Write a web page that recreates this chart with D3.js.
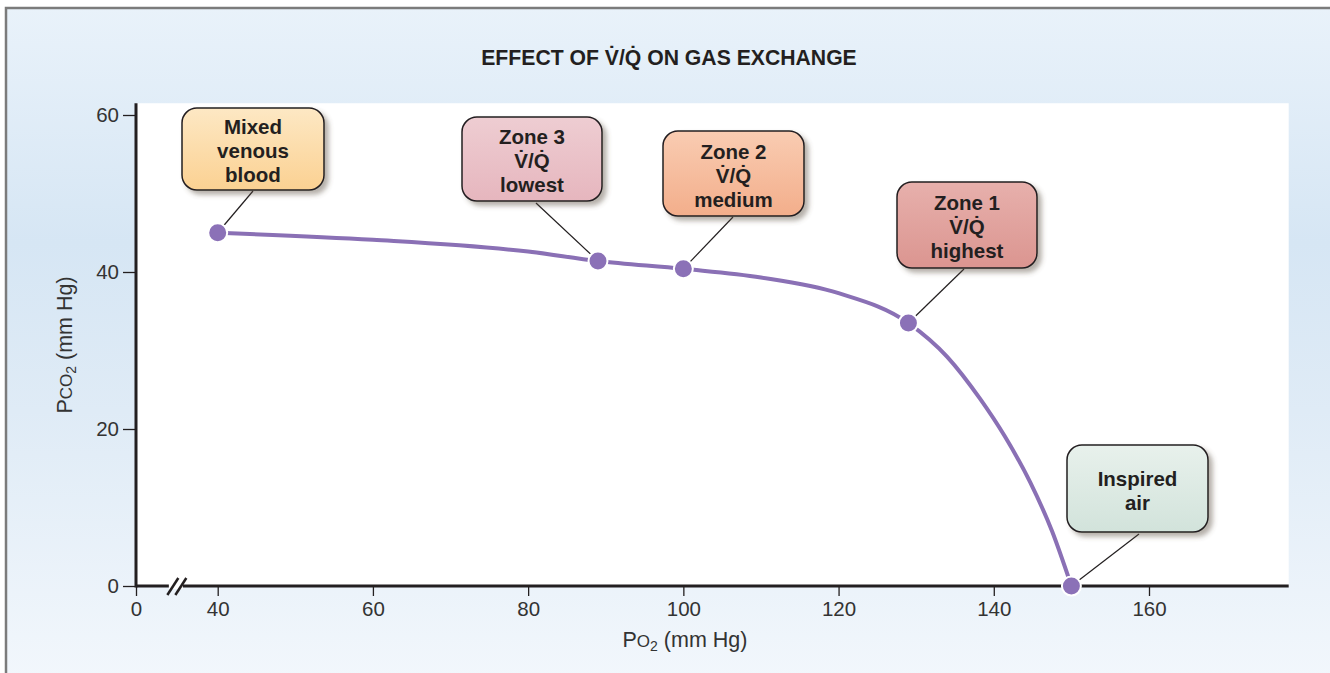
<!DOCTYPE html>
<html>
<head>
<meta charset="utf-8">
<script src="https://cdn.jsdelivr.net/npm/d3@7"></script>
<style>
  html, body { margin: 0; padding: 0; background: #fff; }
  svg { display: block; font-family: "Liberation Sans", Arial, sans-serif; }
</style>
</head>
<body>
<svg id="chart" width="1330" height="673"></svg>
<script>
// tick values
var xTicks = [0, 40, 60, 80, 100, 120, 140, 160];
var yTicks = [0, 20, 40, 60];

// marked points (PO2, PCO2)
var pointLabels = [
  ["Mixed", "venous", "blood"],
  ["Zone 3", "V\u0307/Q\u0307", "lowest"],
  ["Zone 2", "V\u0307/Q\u0307", "medium"],
  ["Zone 1", "V\u0307/Q\u0307", "highest"],
  ["Inspired", "air"]
];
var pointPO2 = [40, 89, 100, 129, 150];
var pointPCO2 = [45, 41.4, 40.4, 33.5, 0];

// O2-CO2 curve
var curvePO2 = [40, 60, 80, 89, 100, 110, 120, 129, 134, 138.2, 141.4, 144.7, 147.5, 150];
var curvePCO2 = [45, 44.1, 42.6, 41.4, 40.4, 39.3, 37.3, 33.5, 29.2, 23.9, 19.1, 13.2, 7.0, 0];

// label box layout (left, top, width, height, leader start x,y)
var boxes = [
  {x: 182, y: 108, w: 142, h: 82, lx: 253, ly: 191, top: "#fde8c4", bot: "#fbd192"},
  {x: 462, y: 117, w: 140, h: 84, lx: 536, ly: 203, top: "#eecdd2", bot: "#e6b6be"},
  {x: 663, y: 131, w: 141, h: 85, lx: 733, ly: 217, top: "#f9ccb2", bot: "#f3ae8b"},
  {x: 897, y: 182, w: 140, h: 86, lx: 964, ly: 269, top: "#e7b0ac", bot: "#db9590"},
  {x: 1067, y: 445, w: 141, h: 87, lx: 1139, ly: 534, top: "#e8f1ec", bot: "#d2e3db"}
];

var svg = d3.select("#chart");
var defs = svg.append("defs");

var bg = defs.append("linearGradient").attr("id", "bg")
    .attr("x1", 0).attr("y1", 0).attr("x2", 0).attr("y2", 1);
bg.append("stop").attr("offset", "0%").attr("stop-color", "#e9f2fa");
bg.append("stop").attr("offset", "35%").attr("stop-color", "#d6e6f4");
bg.append("stop").attr("offset", "60%").attr("stop-color", "#dfebf6");
bg.append("stop").attr("offset", "100%").attr("stop-color", "#f2f7fc");

var shadow = defs.append("filter").attr("id", "shadow")
    .attr("x", "-20%").attr("y", "-20%").attr("width", "150%").attr("height", "150%");
shadow.append("feDropShadow").attr("dx", 4).attr("dy", 4).attr("stdDeviation", 2.5)
    .attr("flood-color", "#5a5040").attr("flood-opacity", 0.45);

boxes.forEach(function(b, i) {
  var g = defs.append("linearGradient").attr("id", "box" + i)
      .attr("x1", 0).attr("y1", 0).attr("x2", 0).attr("y2", 1);
  g.append("stop").attr("offset", "0%").attr("stop-color", b.top);
  g.append("stop").attr("offset", "100%").attr("stop-color", b.bot);
});

// panel
svg.append("rect").attr("x", 5).attr("y", 7).attr("width", 1330).attr("height", 673)
    .attr("fill", "url(#bg)");
svg.append("path").attr("d", "M6,673V8H1330")
    .attr("fill", "none").attr("stroke", "#7b7b7b").attr("stroke-width", 2.5);

// scales (broken x axis between 0 and 40)
var x = d3.scaleLinear().domain([0, 40, 160]).range([136, 217.7, 1149]);
var y = d3.scaleLinear().domain([0, 60]).range([586, 115]);
var xMax = 178, yMax = 61.5;

svg.append("rect")
    .attr("x", x(0)).attr("y", y(yMax))
    .attr("width", x(xMax) - x(0)).attr("height", y(0) - y(yMax))
    .attr("fill", "#fff");

// title
svg.append("text").attr("x", 669).attr("y", 65)
    .attr("text-anchor", "middle").attr("font-size", 21.2).attr("font-weight", "bold")
    .attr("fill", "#231f20")
    .text("EFFECT OF V\u0307/Q\u0307 ON GAS EXCHANGE");

// axes
var xAxis = svg.append("g").attr("transform", "translate(0," + y(0) + ")")
    .call(d3.axisBottom(x).tickValues(xTicks).tickSize(10).tickPadding(5).tickSizeOuter(0));
var yAxis = svg.append("g").attr("transform", "translate(" + x(0) + ",0)")
    .call(d3.axisLeft(y).tickValues(yTicks).tickSize(13).tickPadding(4).tickSizeOuter(0));

[xAxis, yAxis].forEach(function(a) {
  a.select(".domain").remove();
  a.selectAll(".tick line").attr("stroke", "#231f20").attr("stroke-width", 1.3);
  a.selectAll(".tick text").attr("font-size", 20.5).attr("fill", "#333")
      .attr("font-family", "'Liberation Sans', Arial, sans-serif");
});

// axis lines drawn over the ticks
svg.append("line").attr("x1", x(0)).attr("x2", x(xMax)).attr("y1", y(0)).attr("y2", y(0))
    .attr("stroke", "#231f20").attr("stroke-width", 3);
svg.append("line").attr("x1", x(0)).attr("x2", x(0)).attr("y1", y(0) + 1.5).attr("y2", y(yMax))
    .attr("stroke", "#231f20").attr("stroke-width", 3);

// axis break mark
var bx = x(20);
svg.append("rect").attr("x", bx - 8).attr("y", y(0) - 3).attr("width", 14).attr("height", 6)
    .attr("fill", "#fff");
[-4, 4].forEach(function(o) {
  svg.append("line")
      .attr("x1", bx + o - 5.5).attr("y1", y(0) + 9)
      .attr("x2", bx + o + 5.5).attr("y2", y(0) - 8)
      .attr("stroke", "#231f20").attr("stroke-width", 2.5);
});

// axis titles
var xl = svg.append("text").attr("x", 685).attr("y", 647)
    .attr("text-anchor", "middle").attr("font-size", 21.5).attr("fill", "#333");
xl.append("tspan").text("P");
xl.append("tspan").attr("font-size", 17).text("O");
xl.append("tspan").attr("font-size", 14).attr("dy", 4).text("2");
xl.append("tspan").attr("dy", -4).text(" (mm Hg)");

var yl = svg.append("text").attr("transform", "translate(72,345) rotate(-90)")
    .attr("text-anchor", "middle").attr("font-size", 21.5).attr("fill", "#333");
yl.append("tspan").text("P");
yl.append("tspan").attr("font-size", 17).text("CO");
yl.append("tspan").attr("font-size", 14).attr("dy", 4).text("2");
yl.append("tspan").attr("dy", -4).text(" (mm Hg)");

// curve
var curve = curvePO2.map(function(d, i) { return [d, curvePCO2[i]]; });
var line = d3.line()
    .x(function(d) { return x(d[0]); })
    .y(function(d) { return y(d[1]); })
    .curve(d3.curveMonotoneX);
svg.append("path").datum(curve).attr("d", line)
    .attr("fill", "none").attr("stroke", "#8a70b5").attr("stroke-width", 4);

// label boxes and leaders
var points = pointPO2.map(function(d, i) {
  return {po2: d, pco2: pointPCO2[i], lines: pointLabels[i], box: boxes[i], i: i};
});

svg.selectAll(".leader").data(points).enter().append("line")
    .attr("class", "leader")
    .attr("x1", function(d) { return d.box.lx; })
    .attr("y1", function(d) { return d.box.ly; })
    .attr("x2", function(d) { return x(d.po2); })
    .attr("y2", function(d) { return y(d.pco2); })
    .attr("stroke", "#231f20").attr("stroke-width", 1.2);

var lab = svg.selectAll(".lab").data(points).enter().append("g").attr("class", "lab");
lab.append("rect")
    .attr("x", function(d) { return d.box.x; })
    .attr("y", function(d) { return d.box.y; })
    .attr("width", function(d) { return d.box.w; })
    .attr("height", function(d) { return d.box.h; })
    .attr("rx", 15)
    .attr("fill", function(d) { return "url(#box" + d.i + ")"; })
    .attr("stroke", "#231f20").attr("stroke-width", 1.5)
    .attr("filter", "url(#shadow)");
lab.each(function(d) {
  var g = d3.select(this);
  var cx = d.box.x + d.box.w / 2, cy = d.box.y + d.box.h / 2;
  var n = d.lines.length;
  d.lines.forEach(function(t, j) {
    g.append("text")
        .attr("x", cx)
        .attr("y", cy + (j - (n - 1) / 2) * 24 + 9)
        .attr("text-anchor", "middle")
        .attr("font-size", 20.5).attr("font-weight", "bold")
        .attr("fill", "#231f20")
        .text(t);
  });
});

// points
svg.selectAll(".pt").data(points).enter().append("circle")
    .attr("class", "pt")
    .attr("cx", function(d) { return x(d.po2); })
    .attr("cy", function(d) { return y(d.pco2); })
    .attr("r", 9.5)
    .attr("fill", "#8b71b7").attr("stroke", "#fff").attr("stroke-width", 2);
</script>
</body>
</html>
